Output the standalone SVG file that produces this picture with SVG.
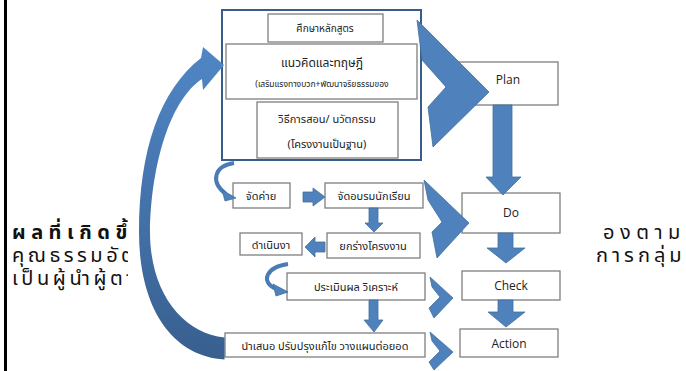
<svg xmlns="http://www.w3.org/2000/svg" width="686" height="371" viewBox="0 0 686 371">
<style>
.box{fill:#fff;stroke:#7f7f7f;stroke-width:1.3}
.outer{fill:#fff;stroke:#385d8a;stroke-width:2}
.arr{fill:#4f81bd;stroke:#41719c;stroke-width:0.8}
.curl{fill:none;stroke:#4a7bb5;stroke-width:4;stroke-linecap:butt}
.th{font-family:"Noto Sans Thai","Noto Sans","DejaVu Sans",sans-serif;fill:#222;text-anchor:middle}
.en{font-family:"Open Sans","Liberation Sans",sans-serif;font-size:12px;fill:#222;text-anchor:middle}
.side{font-family:"Noto Sans Thai","Noto Sans","DejaVu Sans",sans-serif;fill:#111;font-size:20px}
</style>
<defs>
<linearGradient id="g" x1="0" y1="0" x2="0" y2="1">
<stop offset="0" stop-color="#5086c6"/>
<stop offset="1" stop-color="#385f8f"/>
</linearGradient>
<clipPath id="cl"><rect x="0" y="0" width="128" height="371"/></clipPath>
</defs>
<rect x="0" y="0" width="686" height="371" fill="#fff"/>
<rect x="4" y="0" width="3" height="371" fill="#000"/>
<g id="side-text">
<g clip-path="url(#cl)">
<text class="side" x="12" y="239" font-weight="bold" letter-spacing="5.5">ผลที่เกิดขึ้น</text>
<text class="side" x="12" y="262" letter-spacing="3.5">คุณธรรมอัตลักษณ์</text>
<text class="side" x="12" y="285" letter-spacing="3.6">เป็นผู้นำผู้ตาม</text>
</g>
<text class="side" x="603" y="239" letter-spacing="5.5">องตาม</text>
<text class="side" x="596" y="262" letter-spacing="4">การกลุ่ม</text>
</g>
<g id="top-block">
<rect class="outer" x="222" y="10" width="199" height="150"/>
<g id="n-study"><rect class="box" x="268" y="14" width="115" height="28"/><text class="th" x="325" y="32" font-size="10">ศึกษาหลักสูตร</text></g>
<g id="n-theory"><rect class="box" x="226" y="44" width="191" height="55"/><text class="th" x="322" y="67" font-size="12">แนวคิดและทฤษฎี</text><text class="th" x="322" y="87" font-size="8.5">(เสริมแรงทางบวก+พัฒนาจริยธรรมของ</text></g>
<g id="n-method"><rect class="box" x="257" y="102" width="141" height="56"/><text class="th" x="327" y="123" font-size="11">วิธีการสอน/ นวัตกรรม</text><text class="th" x="327" y="148" font-size="11">(โครงงานเป็นฐาน)</text></g>
</g>
<g id="n-camp"><rect class="box" x="233" y="183" width="57" height="25"/><text class="th" x="261" y="200" font-size="11">จัดค่าย</text></g>
<g id="n-train"><rect class="box" x="325" y="183" width="98" height="25"/><text class="th" x="374" y="200" font-size="11">จัดอบรมนักเรียน</text></g>
<g id="n-draft"><rect class="box" x="327" y="233" width="93" height="25"/><text class="th" x="373" y="250" font-size="11">ยกร่างโครงงาน</text></g>
<g id="n-run"><rect class="box" x="240" y="233" width="62" height="22"/><text class="th" x="271" y="249" font-size="11">ดำเนินงา</text></g>
<g id="n-eval"><rect class="box" x="287" y="273" width="138" height="27"/><text class="th" x="356" y="291" font-size="11">ประเมินผล วิเคราะห์</text></g>
<g id="n-present"><rect class="box" x="225" y="333" width="200" height="24"/><text class="th" x="325" y="350" font-size="11">นำเสนอ ปรับปรุงแก้ไข วางแผนต่อยอด</text></g>
<g id="n-plan"><rect class="box" x="459" y="62" width="99" height="43"/><text class="en" x="508" y="84">Plan</text></g>
<g id="n-do"><rect class="box" x="462" y="193" width="98" height="40"/><text class="en" x="511" y="217">Do</text></g>
<g id="n-check"><rect class="box" x="462" y="271" width="98" height="29"/><text class="en" x="511" y="290">Check</text></g>
<g id="n-action"><rect class="box" x="460" y="329" width="98" height="28"/><text class="en" x="509" y="348">Action</text></g>
<g id="connectors">
<path d="M224.5,359.5 C170,356 139,305 139,232 C139,150 160,90 201,58 L203,47 L224,65 L203,90 L202,79 C170,100 151,165 150,232 C150,292 182,333 224.5,337.5 Z" fill="url(#g)"/>
<polygon class="arr" points="417,20 489,92 433,147 428,107 446,87 422,60"/>
<polygon class="arr" points="424,180 469,223 437,258 432,232 442,222 428,200"/>
<polygon class="arr" points="430,277 453,298 434,318 429,308 440,297 432,287"/>
<polygon class="arr" points="430,332 453,352 434,370 429,362 440,351 432,341"/>
<polygon class="arr" points="493,105 512,105 512,177 521,177 503,195 486,177 493,177"/>
<polygon class="arr" points="498,233 513,233 513,248 525,248 506,263 487,248 498,248"/>
<polygon class="arr" points="498,300 513,300 513,312 525,312 506,327 488,312 498,312"/>
<polygon class="arr" points="303,192 313,192 313,188 325,197 313,206 313,202 303,202"/>
<polygon class="arr" points="369,208 378,208 378,223 383,223 374,232 365,223 369,223"/>
<polygon class="arr" points="325,242 315,242 315,237 305,247 315,257 315,252 325,252"/>
<polygon class="arr" points="369,300 378,300 378,320 383,320 374,332 364,320 369,320"/>
<path class="curl" d="M234,163 C214,166 210,182 226,194"/>
<polygon class="arr" points="222,190 236,198 225,201"/>
<path class="curl" d="M288,264 C266,267 260,282 276,289"/>
<polygon class="arr" points="273,284 288,292 276,296"/>
</g>
</svg>
